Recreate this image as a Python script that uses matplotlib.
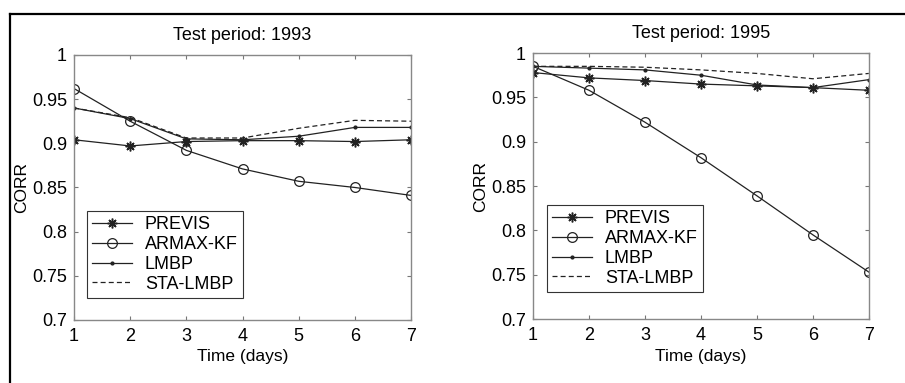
import matplotlib
matplotlib.use("Agg")
import matplotlib.pyplot as plt
from matplotlib.lines import Line2D

# Forecast horizon
days = [1, 2, 3, 4, 5, 6, 7]

# Test period 1993
previs_93 = [0.904, 0.897, 0.902, 0.903, 0.903, 0.902, 0.904]
armax_93 = [0.962, 0.925, 0.892, 0.871, 0.857, 0.850, 0.841]
lmbp_93 = [0.940, 0.928, 0.905, 0.904, 0.908, 0.918, 0.918]
sta_93 = [0.940, 0.929, 0.906, 0.906, 0.917, 0.926, 0.925]

# Test period 1995
previs_95 = [0.978, 0.972, 0.969, 0.965, 0.963, 0.961, 0.958]
armax_95 = [0.985, 0.958, 0.922, 0.882, 0.839, 0.795, 0.753]
lmbp_95 = [0.985, 0.983, 0.981, 0.975, 0.964, 0.961, 0.970]
sta_95 = [0.985, 0.985, 0.984, 0.981, 0.977, 0.971, 0.977]

yticks = [0.7, 0.75, 0.8, 0.85, 0.9, 0.95, 1]
ytick_labels = ["0.7", "0.75", "0.8", "0.85", "0.9", "0.95", "1"]

plt.rcParams["font.family"] = ["Liberation Sans", "DejaVu Sans"]
plt.rcParams["font.size"] = 12.5

fig = plt.figure(figsize=(9.05, 3.83), dpi=100)

ax1 = fig.add_axes([0.0818, 0.1645, 0.3724, 0.692])
ax2 = fig.add_axes([0.589, 0.167, 0.371, 0.6945])

lc = "#222222"
star = (8, 2, 0)


def draw_panel(ax, previs, armax, lmbp, sta, title, leg_anchor):
    ax.plot(days, previs, color=lc, lw=0.9, marker=star, ms=7, mew=1.1, label="PREVIS")
    ax.plot(days, armax, color=lc, lw=0.9, marker="o", ms=7, mfc="none", mew=0.9, label="ARMAX-KF")
    ax.plot(days, lmbp, color=lc, lw=0.9, marker=".", ms=4, label="LMBP")
    ax.plot(days, sta, color=lc, lw=0.9, ls=(0, (4, 2.5)), label="STA-LMBP")
    ax.set_xlim(1, 7)
    ax.set_ylim(0.7, 1)
    ax.set_xticks(days)
    ax.set_yticks(yticks)
    ax.set_yticklabels(ytick_labels)
    ax.tick_params(direction="in", length=3, top=True, right=True, color="#777777",
                   width=0.8, labelsize=13)
    ax.tick_params(axis="x", pad=6)
    ax.tick_params(axis="y", pad=5)
    for s in ax.spines.values():
        s.set_color("#888888")
        s.set_linewidth(1.0)
    ax.set_title(title, fontsize=13, pad=11)
    ax.set_xlabel("Time (days)", fontsize=12.5, labelpad=3)
    ax.set_ylabel("CORR", fontsize=12.5, labelpad=2)
    leg = ax.legend(loc="lower left", bbox_to_anchor=leg_anchor, borderaxespad=0,
                    fancybox=False, edgecolor="#333333", framealpha=1,
                    handlelength=2.2, handletextpad=0.7, labelspacing=0.15,
                    borderpad=0.3, fontsize=13)
    leg.get_frame().set_linewidth(0.8)


draw_panel(ax1, previs_93, armax_93, lmbp_93, sta_93, "Test period: 1993", (0.0386, 0.083))
draw_panel(ax2, previs_95, armax_95, lmbp_95, sta_95, "Test period: 1995", (0.0417, 0.1015))

# outer frame lines (top and left) as in the scanned figure
fig.add_artist(Line2D([10 / 905, 1], [1 - 14 / 383, 1 - 14 / 383], color="black", lw=1.6))
fig.add_artist(Line2D([10 / 905, 10 / 905], [0, 1 - 14 / 383], color="black", lw=1.6))

fig.savefig("out.png", dpi=100)
